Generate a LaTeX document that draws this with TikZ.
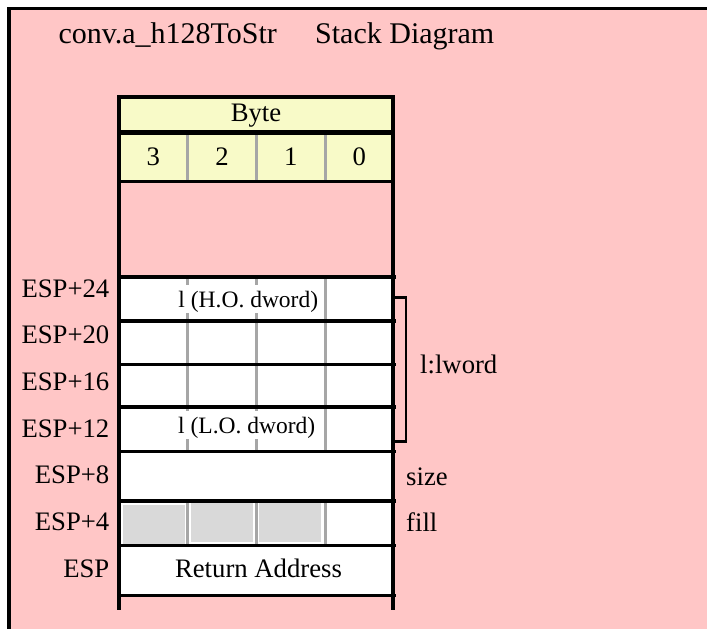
\documentclass[tikz,border=0pt]{standalone}
\usepackage{fontspec}
\setmainfont{Liberation Serif}
\definecolor{bgpink}{RGB}{255,198,198}
\definecolor{hdryellow}{RGB}{248,250,200}
\definecolor{divgray}{RGB}{166,166,166}
\definecolor{cellgray}{RGB}{217,217,217}
\begin{document}
\begin{tikzpicture}[x=1pt,y=-1pt,
  frame/.style={line width=3.4pt},
  rowline/.style={line width=3.3pt},
  divider/.style={draw=divgray, line width=2.6pt},
  lbl/.style={font=\fontsize{26.7}{32}\selectfont, inner sep=0pt, anchor=base},
  espl/.style={font=\fontsize{26.7}{32}\selectfont, inner sep=0pt, anchor=base east},
  sidel/.style={font=\fontsize{26.7}{32}\selectfont, inner sep=0pt, anchor=base west},
  ttl/.style={font=\fontsize{30}{36}\selectfont, inner sep=0pt, anchor=base west},
  wordtxt/.style={font=\fontsize{23.5}{28}\selectfont, fill=white, inner xsep=5pt, inner ysep=0pt, text height=22.5pt, text depth=5.5pt, anchor=base},
  bracket/.style={line width=2.8pt},
]
\clip (0,0) rectangle (707,629);
\fill[white] (0,0) rectangle (707,629);
\filldraw[fill=bgpink, frame] (9,8.7) rectangle (760,700);

% title
\node[ttl] (title1) at (58.3,43.3) {conv.a\_h128ToStr};
\node[ttl] (title2) at (315,43.3) {Stack Diagram};

% header boxes
\fill[hdryellow] (119,97) rectangle (393,181.7);
\fill[white] (119,277) rectangle (393,596);

% gray cells in fill row
\fill[cellgray] (122.7,505) rectangle (185,544);
\fill[cellgray] (191,503.3) rectangle (252.7,541.7);
\fill[cellgray] (259,503.3) rectangle (320.7,541.7);

% byte dividers
\foreach \x in {187.7,256.7,325.7} {
  \draw[divider] (\x,132) -- (\x,181.7);
  \draw[divider] (\x,277) -- (\x,451.3);
  \draw[divider] (\x,501) -- (\x,545.7);
}

% header texts
\node[lbl] (byte) at (256,121.7) {Byte};
\node[lbl] (b3) at (153.3,165) {3};
\node[lbl] (b2) at (222,165) {2};
\node[lbl] (b1) at (290.7,165) {1};
\node[lbl] (b0) at (359.3,165) {0};

% word texts
\node[wordtxt] (ho) at (248.3,307.7) {l (H.O. dword)};
\node[wordtxt] (lo) at (246.7,433.3) {l (L.O. dword)};
\node[lbl] (ret) at (258.5,577.3) {Return Address};

% horizontal row lines
\draw[rowline] (119,97) -- (393,97);
\draw[line width=4.5pt] (119,132.3) -- (393,132.3);
\draw[rowline] (119,181.7) -- (393,181.7);
\foreach \y in {277,321,364.3,407,451.3,501,545.7,595.7} {
  \draw[rowline] (119,\y) -- (396,\y);
}
% verticals
\draw[rowline] (119,95.4) -- (119,610);
\draw[rowline] (393,95.4) -- (393,610);

% bracket
\draw[bracket] (393,297.7) -- (406,297.7) -- (406,441.7) -- (393,441.7);

% ESP labels
\node[espl] (e24) at (109.5,297.1) {ESP+24};
\node[espl] (e20) at (109.5,343.8) {ESP+20};
\node[espl] (e16) at (109.5,390.5) {ESP+16};
\node[espl] (e12) at (109.5,437.1) {ESP+12};
\node[espl] (e8) at (109.5,483.8) {ESP+8};
\node[espl] (e4) at (109.5,530.5) {ESP+4};
\node[espl] (e0) at (109.5,577.1) {ESP};

% side labels
\node[sidel] (lword) at (420,373.3) {l:lword};
\node[sidel] (size) at (406,485) {size};
\node[sidel] (fill) at (406,531.7) {fill};
\end{tikzpicture}
\end{document}
